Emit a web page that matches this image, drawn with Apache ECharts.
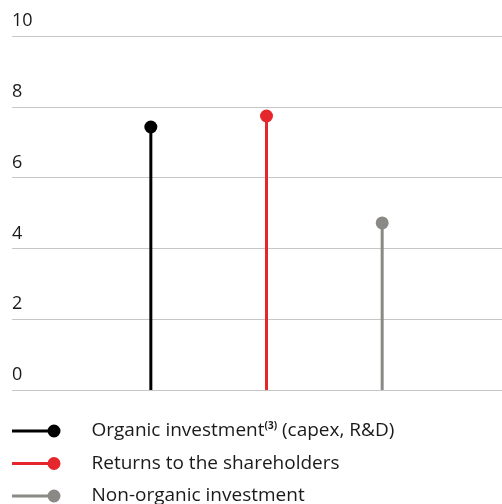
<!DOCTYPE html>
<html>
<head>
<meta charset="utf-8">
<script src="https://cdn.jsdelivr.net/npm/echarts@6/dist/echarts.min.js"></script>
<style>
  html, body { margin: 0; padding: 0; background: #fff; }
  #chart { width: 502px; height: 504px; }
</style>
</head>
<body>
<div id="chart"></div>
<script>
// values
const categories = ['Organic investment', 'Returns to the shareholders', 'Non-organic investment'];
const values = [7.43, 7.74, 4.72];
const colors = ['#000000', '#e5262c', '#8a8985'];
const yTicks = [0, 2, 4, 6, 8, 10];

const chart = echarts.init(document.getElementById('chart'));

// legend icon: short line with a dot at its right end
const icon = 'path://M0,5h42v3h-42z M35.5,6.5a6.5,6.5 0 1,1 13,0a6.5,6.5 0 1,1 -13,0z';

const series = [];
categories.forEach((name, i) => {
  const data = categories.map((c, j) => (j === i ? values[i] : null));
  series.push({
    name: name,
    type: 'bar',
    xAxisIndex: 1,
    yAxisIndex: 1,
    barWidth: 3,
    barGap: '-100%',
    itemStyle: { color: colors[i] },
    data: data,
    silent: true
  });
  series.push({
    name: name,
    type: 'scatter',
    xAxisIndex: 1,
    yAxisIndex: 1,
    symbolSize: 13,
    itemStyle: { color: colors[i], opacity: 1 },
    data: data,
    z: 3
  });
});

const option = {
  animation: false,
  textStyle: { fontFamily: 'Open Sans' },
  grid: [
    { left: 12, right: 0, top: 36, bottom: 114 },
    { left: 93, right: 62, top: 36, bottom: 114 }
  ],
  xAxis: [
    { type: 'value', gridIndex: 0, show: false, min: 0, max: 1 },
    {
      type: 'category', gridIndex: 1, data: categories,
      axisLine: { show: false }, axisTick: { show: false }, axisLabel: { show: false }
    }
  ],
  yAxis: [
    {
      type: 'value', gridIndex: 0, min: yTicks[0], max: yTicks[yTicks.length - 1], interval: 2,
      axisLine: { show: false }, axisTick: { show: false },
      splitLine: { lineStyle: { color: '#c6c6c6', width: 1 } },
      axisLabel: {
        inside: true, margin: 0, align: 'left', verticalAlign: 'bottom',
        padding: [0, 0, 6, 0],
        fontSize: 18, color: '#1a1a1a', fontFamily: 'Open Sans'
      }
    },
    { type: 'value', gridIndex: 1, min: 0, max: 10, show: false }
  ],
  legend: {
    orient: 'vertical',
    left: 12,
    top: 421,
    height: 100,
    padding: 0,
    itemWidth: 48.5,
    itemHeight: 13,
    itemGap: 12.5,
    selectedMode: false,
    data: categories.map(n => ({ name: n, icon: icon })),
    formatter: function (name) {
      if (name === categories[0]) return name + '{sup|(3)} (capex, R&D)';
      return name;
    },
    textStyle: {
      fontSize: 19,
      lineHeight: 20,
      color: '#1a1a1a',
      fontFamily: 'Open Sans',
      padding: [0, 0, 0, 26],
      rich: {
        sup: { fontSize: 10, fontWeight: 'bold', verticalAlign: 'top', lineHeight: 20, padding: [0, 0, 6, 0], color: '#1a1a1a' }
      }
    }
  },
  series: series
};

chart.setOption(option);
</script>
</body>
</html>
